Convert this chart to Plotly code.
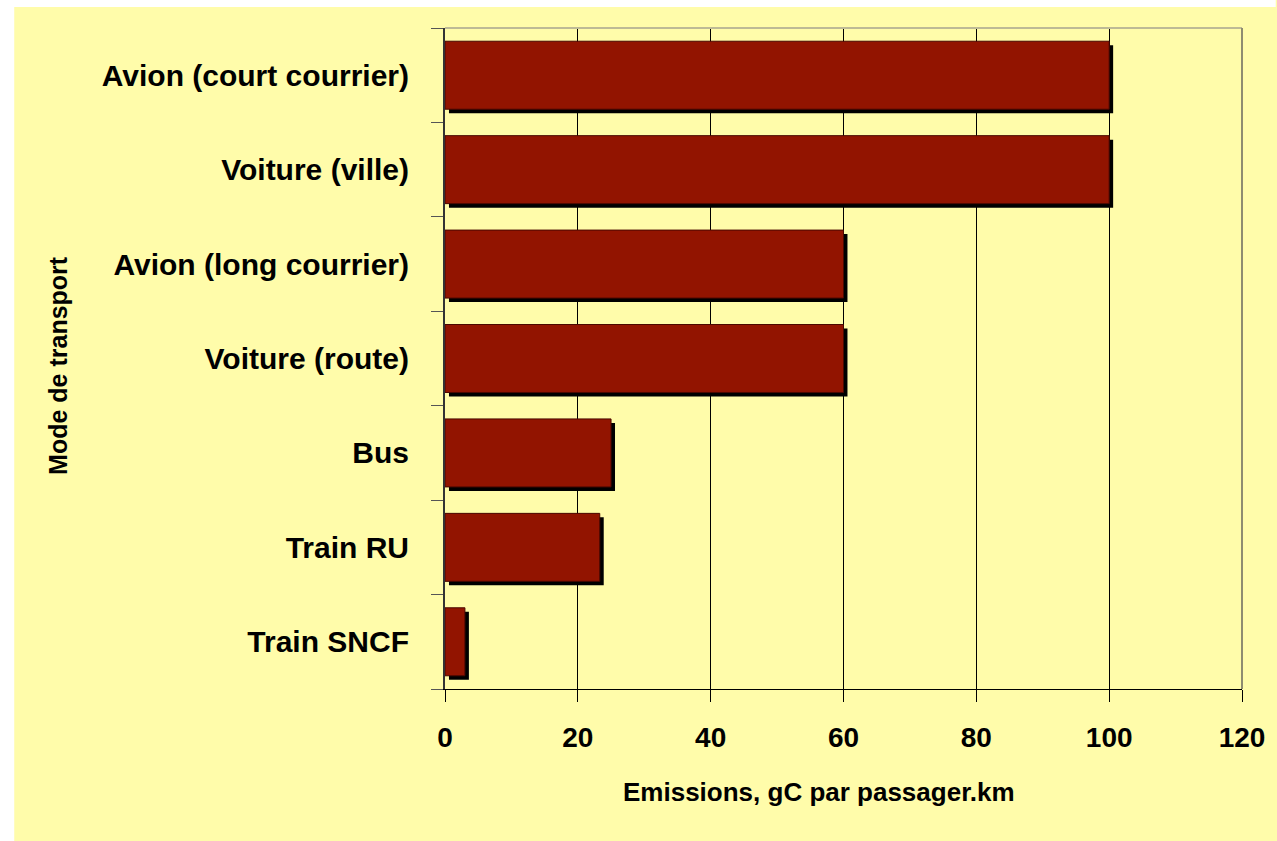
import plotly.graph_objects as go

categories = ["Avion (court courrier)", "Voiture (ville)", "Avion (long courrier)",
              "Voiture (route)", "Bus", "Train RU", "Train SNCF"]
emissions = [100, 100, 60, 60, 25, 23.3, 3]
x_ticks = [0, 20, 40, 60, 80, 100, 120]

W, H = 1277, 841
L, R, T, B = 445, 29, 28, 152
pw, ph = W - L - R, H - T - B

YELLOW = "#FFFCAA"
BAR = "#921400"
FONT = "Liberation Sans, Arial, sans-serif"

bar_w = 0.72
shadow_dx = 4 / pw * 120             # 4 px in data units
shadow_dy = 4 / ph * len(categories)  # 4 px in category units

fig = go.Figure()
fig.add_trace(go.Bar(
    y=categories, x=emissions, base=shadow_dx, orientation="h",
    width=bar_w, offset=-bar_w / 2 + shadow_dy,
    marker=dict(color="black", line=dict(width=0)),
    hoverinfo="skip", showlegend=False,
))
fig.add_trace(go.Bar(
    y=categories, x=emissions, orientation="h",
    width=bar_w, offset=-bar_w / 2,
    marker=dict(color=BAR, line=dict(color="#4A0800", width=1)),
    showlegend=False,
))


def px2paper_x(px):
    return (px - L) / pw


def px2paper_y(py):
    return (H - B - py) / ph


shapes = [
    # white strips at the left and top of the picture
    dict(type="rect", xref="paper", yref="paper",
         x0=px2paper_x(-5), x1=px2paper_x(11), y0=px2paper_y(H + 5), y1=px2paper_y(-5),
         fillcolor="white", line=dict(width=0), layer="above"),
    dict(type="rect", xref="paper", yref="paper",
         x0=px2paper_x(-5), x1=px2paper_x(W + 5), y0=px2paper_y(7), y1=px2paper_y(-5),
         fillcolor="white", line=dict(width=0), layer="above"),
    # gray top and right border of plot area
    dict(type="line", xref="paper", yref="paper", x0=0, x1=1, y0=1, y1=1,
         line=dict(color="#BDBA95", width=2), layer="above"),
    dict(type="line", xref="paper", yref="paper", x0=1, x1=1, y0=0, y1=1,
         line=dict(color="#8E8C70", width=2), layer="above"),
]

annotations = [
    dict(text="<b>Emissions, gC par passager.km</b>", xref="paper", yref="paper",
         x=px2paper_x(822), y=px2paper_y(792), xanchor="center", yanchor="middle",
         showarrow=False, font=dict(family=FONT, size=26, color="black")),
    dict(text="<b>Mode de transport</b>", xref="paper", yref="paper",
         x=px2paper_x(55), y=px2paper_y(365), xanchor="center", yanchor="middle",
         textangle=-90, showarrow=False, font=dict(family=FONT, size=25, color="black")),
]

fig.update_layout(
    width=W, height=H,
    margin=dict(l=L, r=R, t=T, b=B, pad=0),
    paper_bgcolor=YELLOW, plot_bgcolor=YELLOW,
    barmode="overlay",
    shapes=shapes, annotations=annotations,
    font=dict(family=FONT, color="black"),
    xaxis=dict(
        range=[0, 120], tickvals=x_ticks, ticktext=[f"<b>{v}</b>" for v in x_ticks],
        showgrid=True, gridcolor="black", gridwidth=1,
        zeroline=False, showline=True, linecolor="black", linewidth=1,
        ticks="outside", ticklen=12, tickcolor="black", tickwidth=1,
        tickfont=dict(family=FONT, size=28, color="black"),
        ticklabelstandoff=11,
    ),
    yaxis=dict(
        type="category", categoryorder="array", categoryarray=categories,
        range=[len(categories) - 0.5, -0.5],
        tickvals=categories, ticktext=[f"<b>{c}</b>" for c in categories],
        showgrid=False, zeroline=False, showline=True, linecolor="#333333", linewidth=2,
        ticks="outside", ticklen=12, tickcolor="#555555", tickwidth=1,
        tickson="boundaries",
        tickfont=dict(family=FONT, size=30, color="black"),
        ticklabelstandoff=28,
    ),
)

# remove the default page margin so the figure fills the window exactly
page_js = (
    "var d=document.documentElement,b=document.body;"
    "d.style.margin='0';d.style.padding='0';d.style.overflow='hidden';"
    "d.style.width='1277px';d.style.height='841px';"
    "b.style.margin='0';b.style.padding='0';b.style.overflow='hidden';"
    "b.style.width='1277px';b.style.height='841px';"
    "var p=document.getElementById('{plot_id}');"
    "if(p&&p.parentElement){p.parentElement.style.height='841px';"
    "p.parentElement.style.overflow='hidden';}"
)
fig.write_html("out.html", config={"displayModeBar": False}, post_script=page_js)
